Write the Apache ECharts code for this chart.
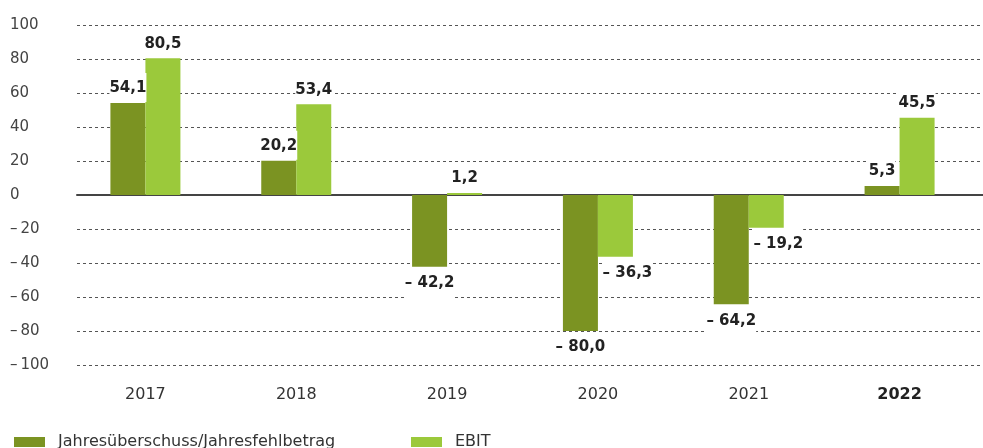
<!DOCTYPE html>
<html>
<head>
<meta charset="utf-8">
<script src="https://cdn.jsdelivr.net/npm/echarts@6/dist/echarts.min.js"></script>
<style>
  html, body { margin: 0; padding: 0; background: #fff; }
  #chart { width: 983px; height: 448px; }
</style>
</head>
<body>
<div id="chart"></div>
<script>
// data
const years = ['2017', '2018', '2019', '2020', '2021', '2022'];
const jahresergebnis = [54.1, 20.2, -42.2, -80.0, -64.2, 5.3];
const ebit = [80.5, 53.4, 1.2, -36.3, -19.2, 45.5];
const seriesNames = ['Jahresüberschuss/Jahresfehlbetrag', 'EBIT'];
const yTicks = { min: -100, max: 100, interval: 20 };

const darkGreen = '#7b9322';
const lightGreen = '#9bc93b';
const fontFamily = '"DejaVu Sans", sans-serif';

function fmt(v) {
  const s = Math.abs(v).toFixed(1).replace('.', ',');
  return v < 0 ? '\u2013 ' + s : s;
}

function tickFmt(v) {
  return v < 0 ? '\u2013\u2009' + Math.abs(v) : String(v);
}

function toBarData(values, negOffset) {
  return values.map(v => ({
    value: v,
    label: {
      position: v < 0 ? 'bottom' : 'top',
      offset: v < 0 ? negOffset : [0, 0],
      padding: v < 0 ? [8, 0, 8, 0] : [8, 0, 6, 0]
    }
  }));
}

const barLabel = {
  show: true,
  distance: 1,
  formatter: p => fmt(p.value),
  fontFamily: fontFamily,
  fontSize: 15,
  fontWeight: 'bold',
  color: '#222',
  backgroundColor: '#fff'
};

const legendText = { fontFamily: fontFamily, fontSize: 16, color: '#333', padding: [0, 0, 0, 8] };

const chart = echarts.init(document.getElementById('chart'));

chart.setOption({
  animation: false,
  grid: [
    { left: 70, right: 8, top: 25, bottom: 83 },
    { left: 77, right: 0, top: 25, bottom: 83 }
  ],
  legend: [
    {
      data: [seriesNames[0]],
      left: 9, top: 429,
      itemWidth: 31, itemHeight: 10,
      icon: 'rect',
      textStyle: legendText
    },
    {
      data: [seriesNames[1]],
      left: 406, top: 429,
      itemWidth: 31, itemHeight: 10,
      icon: 'rect',
      textStyle: legendText
    }
  ],
  xAxis: [
    {
      gridIndex: 0,
      type: 'category',
      data: years,
      axisLine: { show: false, onZero: false },
      axisTick: { show: false },
      axisLabel: {
        margin: 22,
        fontFamily: fontFamily,
        fontSize: 16,
        color: '#333',
        formatter: v => v === '2022' ? '{b|' + v + '}' : v,
        rich: { b: { fontFamily: fontFamily, fontSize: 16, fontWeight: 'bold', color: '#222' } }
      }
    },
    {
      gridIndex: 1,
      type: 'value',
      min: 0, max: 1,
      axisLine: { show: true, onZero: true, lineStyle: { color: '#444', width: 2 } },
      axisTick: { show: false },
      axisLabel: { show: false },
      splitLine: { show: false }
    }
  ],
  yAxis: [
    {
      gridIndex: 0,
      type: 'value',
      min: yTicks.min, max: yTicks.max, interval: yTicks.interval,
      axisLine: { show: false },
      axisTick: { show: false },
      axisLabel: { show: false },
      splitLine: { show: false }
    },
    {
      gridIndex: 1,
      type: 'value',
      min: yTicks.min, max: yTicks.max, interval: yTicks.interval,
      axisLine: { show: false },
      axisTick: { show: false },
      axisLabel: {
        align: 'left',
        margin: 67,
        formatter: tickFmt,
        fontFamily: fontFamily,
        fontSize: 15,
        color: '#444'
      },
      splitLine: { lineStyle: { color: '#555', type: [3, 3], width: 1 } }
    }
  ],
  series: [
    {
      name: seriesNames[0],
      type: 'bar',
      xAxisIndex: 0, yAxisIndex: 0,
      barWidth: 35,
      barGap: 0,
      itemStyle: { color: darkGreen },
      label: barLabel,
      data: toBarData(jahresergebnis, [0, 0]),
      z: 3
    },
    {
      name: seriesNames[1],
      type: 'bar',
      xAxisIndex: 0, yAxisIndex: 0,
      barWidth: 35,
      barGap: 0,
      itemStyle: { color: lightGreen },
      label: barLabel,
      data: toBarData(ebit, [12, 0]),
      z: 3
    }
  ]
});
</script>
</body>
</html>
